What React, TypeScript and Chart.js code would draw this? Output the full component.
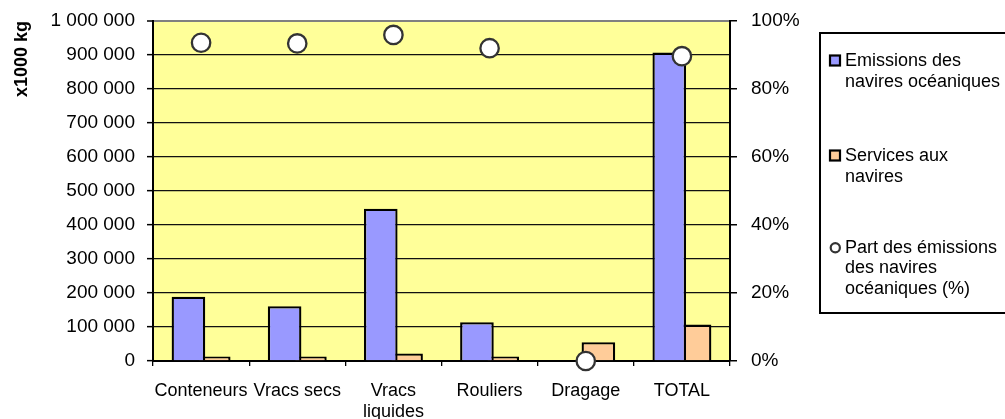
import React, { useEffect, useRef } from "react";
import { Chart, registerables } from "chart.js";

Chart.register(...registerables);

const CATEGORIES: (string | string[])[] = ["Conteneurs", "Vracs secs", ["Vracs", "liquides"], "Rouliers", "Dragage", "TOTAL"];
const OCEAN_EMISSIONS = [189000, 161000, 448000, 114000, 0, 907000];
const SHIP_SERVICES = [13000, 13000, 22000, 13000, 55000, 107000];
const OCEAN_SHARE = [0.936, 0.934, 0.959, 0.92, 0, 0.8965];
const SERIES_NAMES = ["Emissions des navires océaniques", "Services aux navires", "Part des émissions des navires océaniques (%)"];
const LEGEND_LINES = [["Emissions des", "navires océaniques"], ["Services aux", "navires"], ["Part des émissions", "des navires", "océaniques (%)"]];
const LEFT_AXIS_TITLE = "x1000 kg";

const FONT = '"Liberation Sans", Arial, sans-serif';

const fmtThousands = (v: number) => String(Math.round(v)).replace(/\B(?=(\d{3})+(?!\d))/g, " ");

const plotBackground = {
  id: "plotBackground",
  beforeDraw(chart: any) {
    const { ctx, chartArea } = chart;
    ctx.save();
    ctx.fillStyle = "#ffffff";
    ctx.fillRect(0, 0, chart.width, chart.height);
    ctx.fillStyle = "#FFFF99";
    ctx.fillRect(chartArea.left, chartArea.top, chartArea.right - chartArea.left, chartArea.bottom - chartArea.top);
    ctx.restore();
  },
};

const boxLegend = {
  id: "boxLegend",
  afterDraw(chart: any) {
    const ctx = chart.ctx;
    const tops = [61.5, 156.5, 247.7];
    const lineGap = 20.6;
    ctx.save();
    ctx.lineWidth = 2;
    ctx.strokeStyle = "#000";
    ctx.strokeRect(820, 33, 300, 280);
    ctx.font = `18px ${FONT}`;
    ctx.textBaseline = "middle";
    ctx.textAlign = "left";
    LEGEND_LINES.forEach((lines, i) => {
      const ds: any = chart.data.datasets.find((d: any) => d.label === SERIES_NAMES[i]);
      const y0 = tops[i];
      if (ds.type === "line") {
        ctx.beginPath();
        ctx.arc(835.3, y0, 4.6, 0, Math.PI * 2);
        ctx.fillStyle = "#fff";
        ctx.fill();
        ctx.lineWidth = 2.2;
        ctx.strokeStyle = "#333";
        ctx.stroke();
      } else {
        ctx.fillStyle = ds.backgroundColor;
        ctx.fillRect(830, y0 - 6, 10, 10);
        ctx.lineWidth = 2.2;
        ctx.strokeStyle = "#000";
        ctx.strokeRect(830, y0 - 6, 10, 10);
      }
      ctx.fillStyle = "#000";
      lines.forEach((t, j) => ctx.fillText(t, 845, y0 + j * lineGap));
    });
    ctx.restore();
  },
};

export default function App() {
  const ref = useRef<HTMLCanvasElement | null>(null);

  useEffect(() => {
    document.body.style.margin = "0";
    Chart.defaults.font.family = FONT;
    Chart.defaults.color = "#000";
    const gridColors = Array.from({ length: 11 }, (_, i) => (i === 10 ? "#808080" : "#111111"));
    const gridWidths = Array.from({ length: 11 }, (_, i) => (i === 10 ? 2 : 1.3));
    const chart = new Chart(ref.current as HTMLCanvasElement, {
      type: "bar",
      data: {
        labels: CATEGORIES as any,
        datasets: [
          {
            type: "line",
            label: SERIES_NAMES[2],
            data: OCEAN_SHARE,
            yAxisID: "y1",
            showLine: false,
            pointRadius: 9.2,
            pointBorderWidth: 2.3,
            pointBackgroundColor: "#ffffff",
            pointBorderColor: "#333333",
            backgroundColor: "#ffffff",
            borderColor: "#333333",
            clip: false as any,
            order: 0,
          } as any,
          {
            type: "bar",
            label: SERIES_NAMES[0],
            data: OCEAN_EMISSIONS,
            yAxisID: "y",
            backgroundColor: "#9999FF",
            borderColor: "#000000",
            borderWidth: 2.3,
            categoryPercentage: 0.526,
            barPercentage: 1.33,
            order: 1,
          },
          {
            type: "bar",
            label: SERIES_NAMES[1],
            data: SHIP_SERVICES,
            yAxisID: "y",
            backgroundColor: "#FFCC99",
            borderColor: "#000000",
            borderWidth: 2.3,
            categoryPercentage: 0.526,
            barPercentage: 1.33,
            order: 2,
          },
        ],
      },
      options: {
        responsive: false,
        animation: false,
        events: [],
        layout: { padding: { top: 21, right: 205, bottom: 0, left: 0 } },
        plugins: { legend: { display: false }, tooltip: { enabled: false } },
        scales: {
          x: {
            afterFit: (s: any) => { s.height = 58; s.paddingLeft = 0; s.paddingRight = 0; },
            grid: { offset: true, drawOnChartArea: false, tickLength: 5, color: "#000", lineWidth: 1.3 },
            border: { color: "#000", width: 2 },
            ticks: { autoSkip: false, maxRotation: 0, minRotation: 0, padding: 14, font: { size: 18 }, color: "#000" },
          },
          y: {
            position: "left",
            min: 0,
            max: 1000000,
            afterFit: (s: any) => { s.width = 153; s.paddingTop = 0; s.paddingBottom = 0; },
            grid: {
              display: true,
              drawOnChartArea: true,
              color: gridColors,
              lineWidth: gridWidths,
              tickColor: "#000",
              tickWidth: 1.5,
              tickLength: 6,
            },
            border: { color: "#000", width: 2 },
            ticks: { stepSize: 100000, padding: 12, font: { size: 19 }, color: "#000", callback: (v: any) => fmtThousands(Number(v)) },
            title: { display: true, text: LEFT_AXIS_TITLE, align: "end", font: { size: 18, weight: "bold" }, color: "#000", padding: { top: 11, bottom: 0 } },
          },
          y1: {
            position: "right",
            min: 0,
            max: 1,
            afterFit: (s: any) => { s.width = 70; s.paddingTop = 0; s.paddingBottom = 0; },
            grid: { drawOnChartArea: false, color: "#000", lineWidth: 1.5, tickLength: 7 },
            border: { color: "#000", width: 2 },
            ticks: { stepSize: 0.2, padding: 14, font: { size: 19 }, color: "#000", callback: (v: any) => Math.round(Number(v) * 100) + "%" },
          },
        },
      } as any,
      plugins: [plotBackground, boxLegend],
    });
    return () => chart.destroy();
  }, []);

  return (
    <div style={{ width: 1005, height: 419 }}>
      <canvas ref={ref} width={1005} height={419} />
    </div>
  );
}
